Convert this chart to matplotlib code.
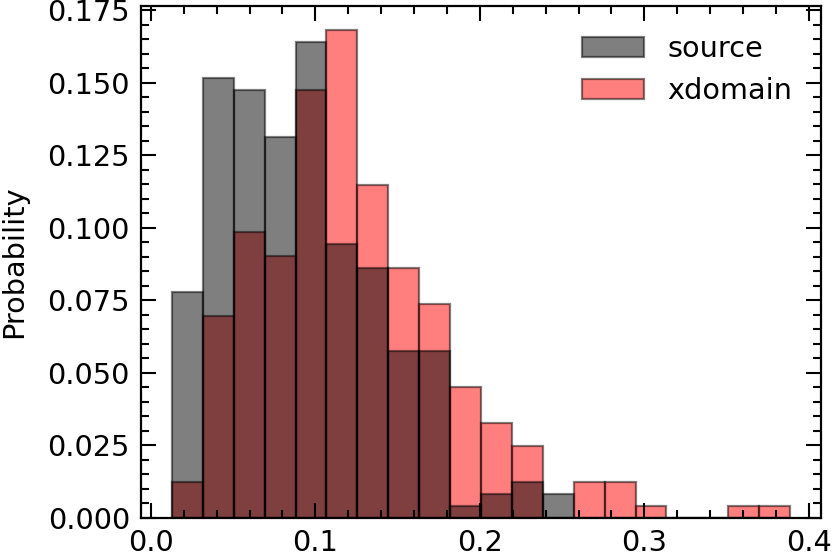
import numpy as np
import matplotlib
matplotlib.use('Agg')
import matplotlib.pyplot as plt
from matplotlib.ticker import AutoMinorLocator

# histogram bins (shared by both samples)
bin_lo = 0.0128
bin_hi = 0.3886
n_bins = 20

# probability per bin
source = [0.0779, 0.1516, 0.1475, 0.1311, 0.1639, 0.0943, 0.0861, 0.0574, 0.0574, 0.0041,
          0.0082, 0.0123, 0.0082, 0.0, 0.0, 0.0, 0.0, 0.0, 0.0, 0.0]
xdomain = [0.0123, 0.0697, 0.0984, 0.0902, 0.1475, 0.1680, 0.1148, 0.0861, 0.0738, 0.0451,
           0.0328, 0.0246, 0.0, 0.0123, 0.0123, 0.0041, 0.0, 0.0, 0.0041, 0.0041]

edges = np.linspace(bin_lo, bin_hi, n_bins + 1)
centers = (edges[:-1] + edges[1:]) / 2

plt.rcParams['font.family'] = 'DejaVu Sans'
plt.rcParams['font.size'] = 20.7

fig = plt.figure(figsize=(8.32, 5.6), dpi=100)
ax = fig.add_axes([0.1695, 0.0755, 0.8173, 0.9138])

h_x = ax.hist(centers, bins=edges, weights=xdomain, color='red', alpha=0.5,
              edgecolor='k', linewidth=1.6, label='xdomain')[2]
h_s = ax.hist(centers, bins=edges, weights=source, color='k', alpha=0.5,
              edgecolor='k', linewidth=1.6, label='source')[2]

ax.set_ylabel('Probability')
ax.yaxis.set_label_coords(-0.166, 0.5)
ax.set_xticks([0.0, 0.1, 0.2, 0.3, 0.4])
ax.set_yticks([0.0, 0.025, 0.05, 0.075, 0.1, 0.125, 0.15, 0.175])
ax.xaxis.set_minor_locator(AutoMinorLocator(5))
ax.yaxis.set_minor_locator(AutoMinorLocator(5))
ax.tick_params(which='both', direction='in', top=True, right=True, width=1.5)
ax.tick_params(which='major', length=11, pad=8)
ax.tick_params(which='minor', length=6)
for s in ax.spines.values():
    s.set_linewidth(1.6)

ax.legend(handles=[h_s[0], h_x[0]], labels=['source', 'xdomain'], frameon=False,
          loc='upper right', handlelength=2.15, borderaxespad=0.6)

fig.savefig('out.png', dpi=100)
